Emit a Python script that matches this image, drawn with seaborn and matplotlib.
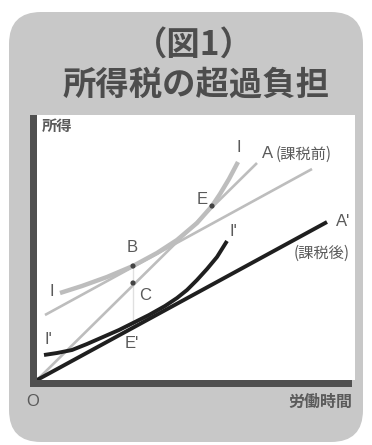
import matplotlib
matplotlib.use("Agg")
import matplotlib.pyplot as plt
from matplotlib.patches import FancyBboxPatch, Rectangle
import seaborn as sns
import pandas as pd

# ---- data (drawing units: labour hours on x, income on y) ----
budget_before_x = [0, 220]          # A (課税前)
budget_before_y = [0, 217]
budget_after_x = [0, 290]           # A' (課税後)
budget_after_y = [0, 158]
comp_line_x = [8, 275]              # line parallel to A' through B
comp_line_y = [65, 211]
curve_I_x = [23, 45, 70, 96, 120, 140, 160, 175, 183, 192, 201]
curve_I_y = [87, 94, 103, 114, 127, 140, 157, 174, 186, 201, 218]
curve_I2_x = [7, 20, 35, 50, 66, 82, 96, 112, 128, 140, 150, 160, 170, 180, 190]
curve_I2_y = [25, 27, 30, 36, 43, 50, 57, 65, 74, 82, 90, 100, 111, 123, 139]
point_names = ["B", "C", "E"]
point_x = [96, 96, 175]
point_y = [114, 97, 174]
drop_x = [96, 96]                   # B -> E'
drop_y = [114, 57]

sns.set_style("white")
plt.rcParams['font.family'] = ['Noto Sans CJK JP', 'DejaVu Sans']

W, H = 372, 445
fig = plt.figure(figsize=(W / 100, H / 100), dpi=100)
fig.patch.set_facecolor("white")

# rounded grey panel
panel = FancyBboxPatch((0.09, 0.03), 3.54, 4.30,
                       boxstyle="round,pad=0,rounding_size=0.32",
                       transform=fig.dpi_scale_trans, fc="#c8c8c8", ec="none", zorder=-5)
fig.patches.append(panel)

ax = fig.add_axes([37 / W, 65 / H, 318 / W, 265 / H])
ax.set_zorder(2)
ax.set_facecolor("white")
ax.set_xlim(0, 318)
ax.set_ylim(0, 265)
for s in ax.spines.values():
    s.set_visible(False)
ax.set_xticks([])
ax.set_yticks([])

light = "#bdbdbd"
dark = "#1f1f1f"

def line(x, y, color, lw, z):
    df = pd.DataFrame({"x": x, "y": y})
    sns.lineplot(data=df, x="x", y="y", sort=False, color=color, lw=lw, ax=ax,
                 zorder=z, solid_capstyle="butt")

line(comp_line_x, comp_line_y, light, 1.9, 2)
line(budget_before_x, budget_before_y, light, 1.9, 2)
line(curve_I_x, curve_I_y, light, 3.2, 3)
line(drop_x, drop_y, "#666666", 0.8, 4)
line(budget_after_x, budget_after_y, dark, 2.8, 5)
line(curve_I2_x, curve_I2_y, dark, 2.8, 5)

pts = pd.DataFrame({"x": point_x, "y": point_y, "n": point_names})
sns.scatterplot(data=pts, x="x", y="y", color="#444444", s=14, ax=ax, zorder=6,
                edgecolor="none", legend=False)
ax.set_xlabel("")
ax.set_ylabel("")

# axis bars
ax.add_patch(Rectangle((-7, -7), 7, 272, fc="#505050", ec="none", clip_on=False, zorder=7))
ax.add_patch(Rectangle((-7, -7), 322, 7, fc="#505050", ec="none", clip_on=False, zorder=7))

# labels
lat = ['Liberation Sans', 'DejaVu Sans']
tc = "#5a5a5a"
def lab(x, y, t, size=12, ha="center", fam=lat, **kw):
    ax.text(x, y, t, ha=ha, va="center", fontsize=size, color=tc, family=fam,
            clip_on=False, zorder=8, **kw)

lab(15, 88, "I")
lab(202, 232, "I")
lab(231, 227, "A")
lab(239, 226, "(課税前)", size=11, ha="left", fam=['Noto Sans CJK JP'])
lab(306, 158, "A'")
lab(285, 127, "(課税後)", size=11, fam=['Noto Sans CJK JP'])
lab(165, 180, "E")
lab(95, 133, "B")
lab(108, 85, "C")
lab(196, 148, "I'")
lab(11, 40, "I'")
lab(95, 36, "E'")
lab(-4, -21, "O")
lab(5, 254, "所得", size=11, ha="left", fam=['Noto Sans CJK JP'], fontweight="bold")
lab(315, -22, "労働時間", size=11.5, ha="right", fam=['Noto Sans CJK JP'], fontweight="bold")

# title
fig.text(194 / W, 1 - 45 / H, "（図1）", ha="center", va="center", fontsize=24,
         fontweight="bold", color="#4d4d4d", family=['Noto Sans CJK JP', 'DejaVu Sans'])
fig.text(196 / W, 1 - 85 / H, "所得税の超過負担", ha="center", va="center", fontsize=24,
         fontweight="bold", color="#4d4d4d", family=['Noto Sans CJK JP', 'DejaVu Sans'])

fig.savefig("out.png", dpi=100, facecolor="white")
